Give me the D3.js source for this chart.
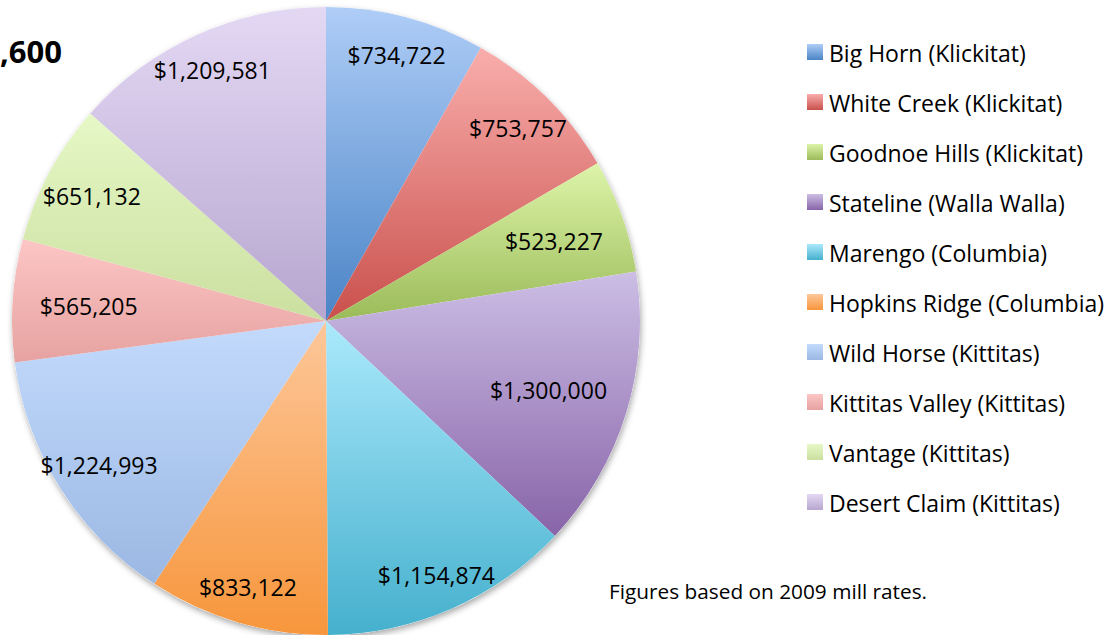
<!DOCTYPE html>
<html><head><meta charset="utf-8">
<script src="https://cdn.jsdelivr.net/npm/d3@7/dist/d3.min.js"></script>
<style>
body{margin:0;background:#fff;}
svg{display:block;font-family:"Open Sans",Lato,sans-serif;}
</style></head>
<body>
<svg id="c" width="1116" height="635"></svg>
<script>
const names = ["Big Horn (Klickitat)","White Creek (Klickitat)","Goodnoe Hills (Klickitat)","Stateline (Walla Walla)","Marengo (Columbia)","Hopkins Ridge (Columbia)","Wild Horse (Kittitas)","Kittitas Valley (Kittitas)","Vantage (Kittitas)","Desert Claim (Kittitas)"];
const values = [734722,753757,523227,1300000,1154874,833122,1224993,565205,651132,1209581];
const topColors = ["#afcdf7","#f9aeac","#ddf4a9","#ccbee5","#abe9fc","#fdc79a","#c3dafc","#fcc6c5","#e6f8c6","#e3d8f4"];
const bottomColors = ["#4a84c6","#c9504c","#9bbb59","#8864a8","#45b0cd","#f7963c","#9bb8e3","#e6a2a0","#cbdfa0","#b7a6cf"];
const titleLine1 = "Total wind farm property taxes per year";
const titleLine2 = "$8,950,600";
const footnote = "Figures based on 2009 mill rates.";

const svg = d3.select("#c");
const defs = svg.append("defs");
const f = defs.append("filter").attr("id","sh").attr("x","-10%").attr("y","-10%").attr("width","120%").attr("height","120%");
f.append("feDropShadow").attr("dx",1).attr("dy",3).attr("stdDeviation",3).attr("flood-color","#000").attr("flood-opacity",0.35);
names.forEach((n,i)=>{
  const g = defs.append("linearGradient").attr("id","g"+i).attr("x1",0).attr("y1",0).attr("x2",0).attr("y2",1);
  g.append("stop").attr("offset","0%").attr("stop-color",topColors[i]);
  g.append("stop").attr("offset","100%").attr("stop-color",bottomColors[i]);
});

const cx = 326, cy = 321, R = 314;
const pie = d3.pie().sort(null).value(d=>d)(values);
const arc = d3.arc().innerRadius(0).outerRadius(R);
const pg = svg.append("g").attr("transform",`translate(${cx},${cy})`);
pg.append("circle").attr("r",R).attr("fill","#fff").attr("filter","url(#sh)");
pg.selectAll("path.s").data(pie).join("path").attr("class","s")
  .attr("d",arc).attr("fill",(d,i)=>`url(#g${i})`);

const fmt = d3.format(",");
const lbl = pg.selectAll("text.l").data(pie).join("text").attr("class","l")
  .attr("font-size",23).attr("fill","#000").attr("text-anchor","middle").attr("dominant-baseline","central")
  .text(d=>"$"+fmt(d.data));
lbl.each(function(d){
  const bb = this.getBBox();
  const hw = bb.width/2, hh = 10;
  const a = (d.startAngle+d.endAngle)/2;
  const dx = Math.sin(a), dy = -Math.cos(a);
  const tTop = Math.abs(dy)>1e-6?hh/Math.abs(dy):1e9;
  const tSide = Math.abs(dx)>1e-6?hw/Math.abs(dx):1e9;
  let dist = R - 27 - Math.min(tTop,tSide);
  // near-horizontal labels are pulled in by their half width
  if (Math.abs(dx) > 0.9) dist = Math.min(dist, R - 20 - tSide);
  d3.select(this).attr("x",dx*dist).attr("y",dy*dist+1);
});

// legend
const lg = svg.append("g");
const rows = lg.selectAll("g").data(names).join("g").attr("transform",(d,i)=>`translate(807,${44+i*50})`);
rows.append("rect").attr("width",16).attr("height",16).attr("fill",(d,i)=>`url(#g${i})`);
rows.append("text").attr("x",22).attr("y",18).attr("font-size",23).attr("fill","#000").text(d=>d);

// titles (cropped by the frame, as in the source slide)
svg.append("text").attr("x",52).attr("y",-1).attr("text-anchor","end").attr("font-size",31).attr("font-weight","bold").text(titleLine1);
svg.append("text").attr("x",62).attr("y",63).attr("text-anchor","end").attr("font-size",31).attr("font-weight","bold").text(titleLine2);
svg.append("text").attr("x",609).attr("y",599).attr("font-size",20.8).attr("fill","#000").text(footnote);
</script>
</body></html>
